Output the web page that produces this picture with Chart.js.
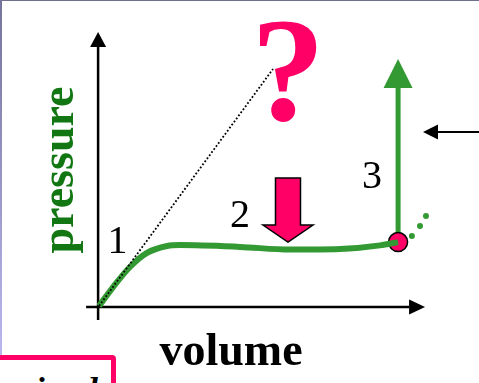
<!DOCTYPE html>
<html>
<head>
<meta charset="utf-8">
<script src="https://cdn.jsdelivr.net/npm/chart.js@4"></script>
<style>
  html, body { margin: 0; padding: 0; background: #fff; }
  #wrap { position: relative; width: 479px; height: 383px; overflow: hidden; }
  #topLine { position: absolute; left: 0; top: 0; width: 479px; height: 1px; background: #6f6f90; }
  #leftLine { position: absolute; left: 0; top: 0; width: 2px; height: 355px;
    background: linear-gradient(#74749c, #b8b8ee); }
  #note { position: absolute; left: -6px; top: 355px; width: 112px; height: 40px;
    border: 5px solid #ff0066; border-radius: 4px; background: #fff; box-sizing: content-box; overflow: hidden; }
  #note span { position: absolute; left: 6px; top: 11px; font: italic bold 34px "Liberation Serif", serif;
    color: #000; white-space: nowrap; }
  canvas { position: absolute; left: 0; top: 0; }
</style>
</head>
<body>
<div id="wrap">
  <canvas id="pv" width="479" height="383"></canvas>
  <div id="topLine"></div>
  <div id="leftLine"></div>
  <div id="note"><span>spinodal</span></div>
</div>
<script>
// measured curve (volume, pressure) in arbitrary units
var curveVolume = [0, 0.47, 1.03, 1.6, 2.27, 2.7, 4.7, 6.37, 8.03, 9.37, 9.97];
var curvePressure = [0, 0.63, 1.3, 1.77, 2.0, 2.03, 1.97, 1.88, 1.9, 2.02, 2.13];

// ideal gas (dotted) line
var idealVolume = [0, 5.8];
var idealPressure = [0, 7.9];

// little trailing dots past the end point
var dotVolume = [10.43, 10.7, 10.9];
var dotPressure = [2.33, 2.67, 3.0];

// end point (pink circle)
var endVolume = [9.97];
var endPressure = [2.13];

// step labels
var stepLabels = ["1", "2", "3"];
var stepVolume = [0.62, 4.7, 9.1];
var stepPressure = [1.77, 2.63, 3.93];

var green = "#339933";
var pink = "#ff0066";

function pts(xs, ys) {
    return xs.map(function (x, i) { return { x: x, y: ys[i] }; });
}

// arrows: [fromX, fromY, toX, toY, color, lineWidth, headLen, headHalf]
var arrows = [
    [-0.03, -0.47, -0.03, 9.13, "#000", 2.5, 15, 8],
    [-0.43, -0.03, 10.87, -0.03, "#000", 2.5, 16, 7.5],
    [9.97, 2.13, 9.97, 8.23, green, 5, 29, 14.5],
    [12.8, 5.8, 10.8, 5.8, "#000", 2, 15, 7.5]
];

var decor = {
    id: 'decor',
    beforeDatasetsDraw: function (chart) {
        var ctx = chart.ctx, xs = chart.scales.x, ys = chart.scales.y;
        ctx.save();
        arrows.forEach(function (a) {
            var x1 = xs.getPixelForValue(a[0]), y1 = ys.getPixelForValue(a[1]);
            var x2 = xs.getPixelForValue(a[2]), y2 = ys.getPixelForValue(a[3]);
            var ang = Math.atan2(y2 - y1, x2 - x1);
            var bx = x2 - Math.cos(ang) * a[6], by = y2 - Math.sin(ang) * a[6];
            ctx.strokeStyle = a[4];
            ctx.fillStyle = a[4];
            ctx.lineWidth = a[5];
            ctx.beginPath();
            ctx.moveTo(x1, y1);
            ctx.lineTo(bx, by);
            ctx.stroke();
            ctx.beginPath();
            ctx.moveTo(x2, y2);
            ctx.lineTo(bx - Math.sin(ang) * a[7], by + Math.cos(ang) * a[7]);
            ctx.lineTo(bx + Math.sin(ang) * a[7], by - Math.cos(ang) * a[7]);
            ctx.closePath();
            ctx.fill();
        });
        ctx.restore();
    },
    afterDatasetsDraw: function (chart) {
        var ctx = chart.ctx, xs = chart.scales.x, ys = chart.scales.y;
        ctx.save();
        // pink block arrow pushing down on the plateau
        var cx = xs.getPixelForValue(6.3), top = ys.getPixelForValue(4.27), tip = ys.getPixelForValue(2.13);
        ctx.beginPath();
        ctx.moveTo(cx - 12.5, top);
        ctx.lineTo(cx + 12.5, top);
        ctx.lineTo(cx + 12.5, tip - 17);
        ctx.lineTo(cx + 25, tip - 17);
        ctx.lineTo(cx, tip);
        ctx.lineTo(cx - 25, tip - 17);
        ctx.lineTo(cx - 12.5, tip - 17);
        ctx.closePath();
        ctx.fillStyle = pink;
        ctx.fill();
        ctx.lineWidth = 1.5;
        ctx.strokeStyle = "#000";
        ctx.stroke();

        ctx.textAlign = 'center';
        ctx.textBaseline = 'alphabetic';
        ctx.fillStyle = "#000";
        ctx.font = '40px "Liberation Serif", serif';
        stepLabels.forEach(function (t, i) {
            ctx.fillText(t, xs.getPixelForValue(stepVolume[i]), ys.getPixelForValue(stepPressure[i]));
        });

        ctx.fillStyle = pink;
        ctx.font = 'bold 148px "Liberation Serif", serif';
        ctx.fillText("?", xs.getPixelForValue(6.3), ys.getPixelForValue(6.2));

        ctx.fillStyle = "#000";
        ctx.font = 'bold 46px "Liberation Serif", serif';
        ctx.fillText("volume", 231, 365);

        ctx.translate(73, 170);
        ctx.rotate(-Math.PI / 2);
        ctx.fillStyle = "#127712";
        ctx.fillText("pressure", 0, 0);
        ctx.restore();
    }
};

new Chart("pv", {
    type: "scatter",
    data: {
        datasets: [{
            data: pts(idealVolume, idealPressure),
            showLine: true,
            borderColor: "#000",
            borderWidth: 1.8,
            borderDash: [1.8, 2],
            pointRadius: 0
        }, {
            data: pts(curveVolume, curvePressure),
            showLine: true,
            borderColor: green,
            borderWidth: 6,
            cubicInterpolationMode: 'monotone',
            pointRadius: 0
        }, {
            data: pts(dotVolume, dotPressure),
            backgroundColor: green,
            borderWidth: 0,
            pointRadius: 3
        }, {
            data: pts(endVolume, endPressure),
            backgroundColor: pink,
            borderColor: "#000",
            borderWidth: 1.5,
            pointRadius: 9.5
        }]
    },
    options: {
        responsive: false,
        animation: false,
        layout: { padding: 0, autoPadding: false },
        plugins: { legend: { display: false }, tooltip: { enabled: false } },
        scales: {
            x: { type: 'linear', display: false, min: -3.3, max: 12.667 },
            y: { type: 'linear', display: false, min: -2.567, max: 10.2 }
        }
    },
    plugins: [decor]
});
</script>
</body>
</html>
